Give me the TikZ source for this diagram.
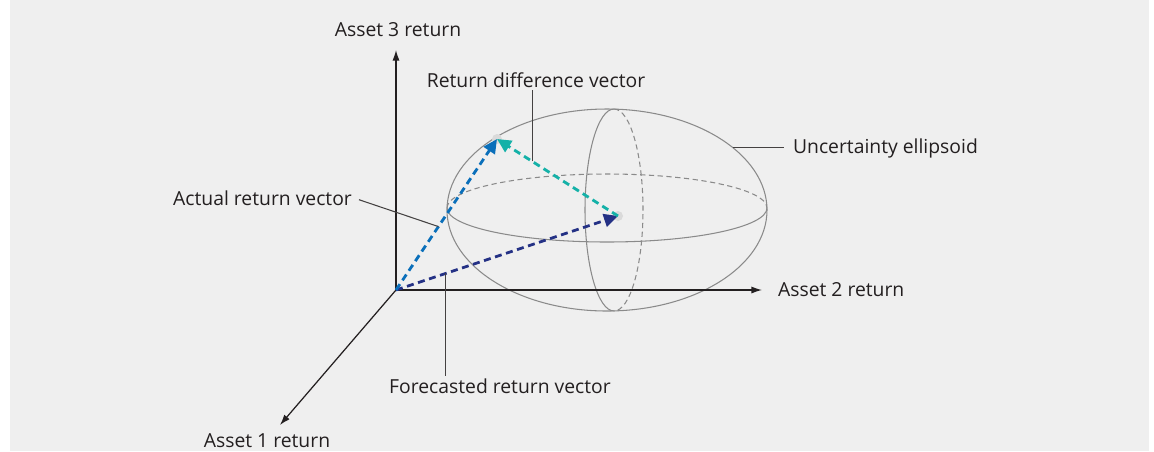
\documentclass[tikz,border=0pt]{standalone}
\usepackage{fontspec}
\setmainfont{Open Sans}
\usepackage{tikz}
\usetikzlibrary{arrows.meta,calc,positioning}
\usepackage{xcolor}

\definecolor{panel}{HTML}{EFEFEF}
\definecolor{ink}{HTML}{231F20}
\definecolor{shellgray}{HTML}{8A8A8A}
\definecolor{halogray}{HTML}{DADADA}
\definecolor{actblue}{HTML}{0A6FBA}
\definecolor{fcnavy}{HTML}{243185}
\definecolor{difteal}{HTML}{14B1A8}

\tikzset{
  lbl/.style={font=\fontsize{11}{13}\selectfont, text=ink, inner sep=1pt},
  axis/.style={draw=ink, line width=0.7pt, -{Latex[length=6pt,width=4pt]}},
  leader/.style={draw=ink!85, line width=0.6pt},
  ellip/.style={draw=shellgray, line width=0.6pt},
  hidden/.style={ellip, dash pattern=on 3pt off 2pt},
  vec/.style={line width=1.6pt, dash pattern=on 4pt off 2.6pt, -{Triangle[length=8pt,width=7.5pt]}},
}

\begin{document}
\begin{tikzpicture}[x=0.02cm, y=-0.02cm]
\useasboundingbox (0,0) rectangle (1154,451);
\fill[panel] (10,0) rectangle (1149,451);

%----- punti principali -----
\coordinate (O) at (396,290);
\coordinate (a1) at (280,425);
\coordinate (a2) at (762,290);
\coordinate (a3) at (396,50);
\coordinate (act) at (497,139);
\coordinate (fc) at (618,216);
\coordinate (ctr) at (607,210);
\coordinate (eq) at (607,208);
\coordinate (mer) at (614,210);

%----- ellissoide -----
\draw[ellip] (ctr) ellipse[x radius=160, y radius=101];
\draw[ellip] ($(eq)+(160,0)$) arc[start angle=0, end angle=180, x radius=160, y radius=34];
\draw[hidden] ($(eq)+(-160,0)$) arc[start angle=180, end angle=360, x radius=160, y radius=34];
\draw[ellip] ($(mer)+(0,101)$) arc[start angle=90, end angle=270, x radius=29, y radius=101];
\draw[hidden] ($(mer)+(0,-101)$) arc[start angle=270, end angle=450, x radius=29, y radius=101];

%----- assi -----
\draw[axis] (O) -- (a3);
\draw[axis] (O) -- (a2);
\draw[axis] (O) -- (a1);
\node[lbl] (a3lbl) at (398,30) {Asset 3 return};
\node[lbl, anchor=west] (a2lbl) at (776,290) {Asset 2 return};
\node[lbl] (a1lbl) at (267,441) {Asset 1 return};

%----- vettori -----
\fill[halogray] (act) circle (5);
\fill[halogray] (fc) circle (5);
\draw[vec, color=fcnavy] (O) -- (fc);
\draw[vec, color=actblue] (O) -- (act);
\draw[vec, color=difteal] (fc) -- (act);

%----- etichette con richiami -----
\node[lbl, anchor=east] (actlbl) at (354,198) {Actual return vector};
\coordinate (actfoot) at ($(O)!0.42!(act)$);
\draw[leader, shorten <=3pt] (actlbl.east) -- (actfoot);

\node[lbl] (diflbl) at (536,80) {Return difference vector};
\coordinate (diffoot) at ($(fc)!0.71!(act)$);
\draw[leader] (diffoot) -- (diffoot |- diflbl.south);

\node[lbl] (fclbl) at (500,386) {Forecasted return vector};
\coordinate (fcfoot) at ($(O)!0.225!(fc)$);
\draw[leader] (fcfoot) -- (fcfoot |- fclbl.north);

\node[lbl, anchor=west] (shelllbl) at (791,148) {Uncertainty ellipsoid};
\coordinate (shellpt) at ($(ctr)+(-38:160 and 101)$);
\draw[leader, shorten >=4pt] (shellpt) -- (shellpt -| shelllbl.west);
\end{tikzpicture}
\end{document}
